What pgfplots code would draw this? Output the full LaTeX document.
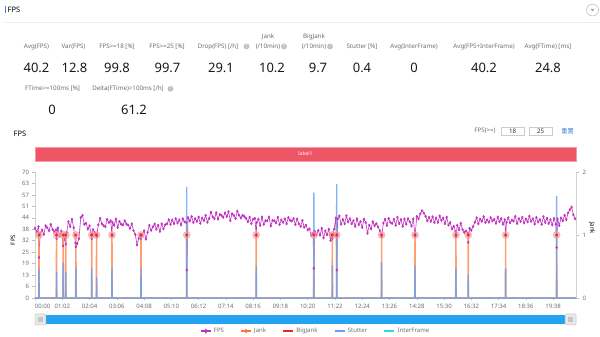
\documentclass[border=0pt]{standalone}
\usepackage{pgfplots}
\usepackage{pgfplotstable}
\pgfplotsset{compat=1.18}
\usepackage{fontspec}
\setmainfont{Noto Sans}
\newfontfamily\cjk{Noto Sans CJK SC}
\definecolor{fpsc}{RGB}{192,52,192}
\definecolor{jankc}{RGB}{252,150,100}
\definecolor{jankl}{RGB}{250,120,60}
\definecolor{bigc}{RGB}{232,40,40}
\definecolor{halo}{RGB}{244,150,150}
\definecolor{stutc}{RGB}{100,160,245}
\definecolor{interc}{RGB}{50,215,235}
\definecolor{lblc}{RGB}{110,110,110}
\definecolor{valc}{RGB}{25,25,25}
\definecolor{bannerc}{RGB}{238,86,102}
\definecolor{sliderc}{RGB}{36,164,240}
\definecolor{linkc}{RGB}{60,120,220}
\definecolor{barc}{RGB}{70,120,240}

\pgfplotstableread[row sep=\\]{t y\\
0 38.7\\ 4 36.7\\ 8 39.6\\ 9 22.5\\ 12 36.0\\ 16 37.8\\ 20 35.3\\ 24 40.1\\ 28 39.0\\ 32 37.4\\ 36 40.9\\ 40 38.1\\ 44 36.7\\ 48 37.9\\ 49 33.0\\ 52 38.9\\ 56 34.5\\ 60 37.2\\ 64 29.0\\ 68 33.5\\ 70 30.0\\ 72 36.4\\ 76 42.4\\ 80 39.7\\ 84 43.7\\ 88 39.0\\ 92 30.6\\ 93 28.5\\ 96 30.2\\ 100 33.0\\
104 44.6\\ 108 45.9\\ 112 41.0\\ 116 41.5\\ 120 38.3\\ 124 40.1\\ 128 35.1\\ 129 33.0\\ 132 38.0\\ 136 36.3\\ 140 34.0\\ 144 40.6\\ 148 44.2\\ 152 41.3\\ 156 40.2\\ 160 39.6\\ 164 43.7\\ 168 41.9\\ 172 42.9\\ 175 34.5\\ 176 42.1\\ 180 40.4\\ 184 43.9\\ 188 39.2\\ 192 42.5\\ 196 41.0\\ 200 40.6\\
204 42.9\\ 208 41.1\\ 212 40.5\\ 216 38.7\\ 220 41.2\\ 224 37.5\\ 228 35.3\\ 232 29.5\\ 236 33.2\\ 240 35.5\\ 241 33.0\\ 244 34.8\\ 248 37.4\\ 252 32.7\\ 256 36.5\\ 260 40.4\\ 264 37.6\\ 268 39.5\\ 272 41.1\\ 276 38.2\\ 280 40.4\\ 284 37.0\\ 288 41.2\\ 292 38.4\\ 296 40.7\\ 300 41.2\\
304 43.5\\ 308 40.9\\ 312 43.3\\ 316 41.3\\ 320 44.1\\ 324 41.7\\ 328 43.4\\ 332 40.6\\ 336 44.0\\ 340 42.3\\ 344 41.9\\ 345 15.5\\ 348 44.7\\ 352 42.8\\ 356 45.3\\ 360 42.0\\ 364 44.1\\ 368 42.6\\ 372 45.0\\ 376 41.5\\ 380 44.4\\ 384 43.0\\ 388 45.9\\ 392 42.1\\ 396 44.2\\ 400 47.7\\
404 45.1\\ 408 44.0\\ 412 47.4\\ 416 43.8\\ 420 46.4\\ 424 45.9\\ 428 44.8\\ 432 47.3\\ 436 45.3\\ 440 48.0\\ 444 43.0\\ 448 46.8\\ 452 45.9\\ 456 44.1\\ 460 48.2\\ 464 46.0\\ 468 44.5\\ 472 46.0\\ 476 45.2\\ 480 44.2\\ 484 42.4\\ 488 44.9\\ 492 41.3\\ 496 43.8\\ 500 44.2\\ 503 34.5\\
504 41.9\\ 508 43.8\\ 512 40.3\\ 516 45.0\\ 520 40.9\\ 524 42.9\\ 528 42.9\\ 532 45.0\\ 536 40.0\\ 540 43.1\\ 544 42.9\\ 548 41.7\\ 552 44.9\\ 556 40.8\\ 560 43.4\\ 564 42.0\\ 568 44.0\\ 572 41.2\\ 576 44.7\\ 580 43.1\\ 584 42.8\\ 588 44.1\\ 592 40.8\\ 596 43.9\\ 600 41.2\\
604 39.8\\ 608 43.0\\ 612 39.3\\ 616 40.5\\ 620 37.8\\ 624 38.4\\ 628 34.8\\ 632 35.9\\ 634 16.5\\ 636 37.0\\ 640 35.0\\ 644 37.5\\ 648 34.9\\ 652 38.7\\ 656 33.4\\ 660 37.3\\ 664 35.1\\ 668 38.2\\ 672 32.0\\ 674 35.5\\ 676 33.0\\ 680 38.2\\ 684 44.5\\ 686 15.5\\ 688 43.8\\ 692 45.6\\ 696 41.0\\ 700 43.6\\
704 41.2\\ 708 45.7\\ 712 42.3\\ 716 44.1\\ 720 41.2\\ 724 42.9\\ 728 39.8\\ 732 44.0\\ 736 40.7\\ 740 42.5\\ 744 39.2\\ 748 43.8\\ 752 41.9\\ 756 36.0\\ 760 40.5\\ 764 38.4\\ 768 42.4\\ 772 40.1\\ 776 41.3\\ 780 39.5\\ 784 37.4\\ 788 34.0\\ 792 41.6\\ 796 43.8\\ 800 40.3\\
804 44.2\\ 808 42.1\\ 812 41.4\\ 816 43.7\\ 820 40.4\\ 824 44.9\\ 828 41.3\\ 832 43.6\\ 836 39.8\\ 840 43.9\\ 844 41.0\\ 848 44.1\\ 852 42.4\\ 856 40.0\\ 860 43.9\\ 864 34.5\\ 868 45.3\\ 872 44.0\\ 876 46.8\\ 880 48.5\\ 884 47.2\\ 888 45.4\\ 892 42.9\\ 896 44.8\\ 900 42.6\\
904 45.1\\ 908 41.9\\ 912 44.5\\ 916 42.0\\ 920 45.6\\ 924 43.2\\ 928 44.4\\ 932 41.3\\ 936 44.9\\ 940 40.5\\ 944 41.9\\ 948 38.4\\ 952 39.8\\ 956 37.0\\ 957 34.0\\ 960 40.4\\ 964 37.9\\ 968 41.5\\ 972 38.0\\ 976 36.5\\ 980 37.2\\ 984 36.0\\ 985 31.0\\ 988 38.7\\ 992 37.6\\ 996 39.7\\ 1000 42.1\\
1004 44.6\\ 1008 41.2\\ 1012 43.8\\ 1016 42.6\\ 1020 45.2\\ 1024 41.9\\ 1028 43.4\\ 1032 42.1\\ 1036 44.7\\ 1040 42.8\\ 1044 43.7\\ 1048 41.5\\ 1052 45.0\\ 1056 42.4\\ 1060 44.1\\ 1064 41.0\\ 1068 43.5\\ 1070 34.5\\ 1072 42.0\\ 1076 44.6\\ 1080 41.8\\ 1084 43.3\\ 1088 42.7\\ 1092 45.4\\ 1096 41.4\\ 1100 44.1\\
1104 42.5\\ 1108 44.9\\ 1112 41.7\\ 1116 43.9\\ 1120 42.3\\ 1124 45.5\\ 1128 42.6\\ 1132 44.0\\ 1136 41.1\\ 1140 44.8\\ 1144 42.2\\ 1148 43.6\\ 1152 40.9\\ 1156 45.2\\ 1160 42.0\\ 1164 44.3\\ 1168 41.4\\ 1172 43.5\\ 1176 40.6\\ 1180 44.2\\ 1184 41.0\\ 1186 28.0\\ 1188 43.9\\ 1192 40.3\\ 1196 44.5\\ 1200 42.9\\
1204 46.0\\ 1208 43.5\\ 1212 47.3\\ 1216 49.0\\ 1220 50.5\\ 1224 46.2\\ 1228 44.0\\
}\fpsdata

% Jank (right axis, 0..2)
\pgfplotstableread[row sep=\\]{t y\\
0 0\\ 8.5 0\\ 9 1\\ 9.5 0\\ 48.5 0\\ 49 1\\ 49.5 0\\ 63.5 0\\ 64 1\\ 64.5 0\\ 69.5 0\\ 70 1\\ 70.5 0\\ 92.5 0\\ 93 1\\ 93.5 0\\ 128.5 0\\ 129 1\\ 129.5 0\\ 139.5 0\\ 140 1\\ 140.5 0\\ 174.5 0\\ 175 1\\ 175.5 0\\ 240.5 0\\ 241 1\\ 241.5 0\\ 344.5 0\\ 345 1\\ 345.5 0\\ 502.5 0\\ 503 1\\ 503.5 0\\ 633.5 0\\ 634 1\\ 634.5 0\\ 675.5 0\\ 676 1\\ 676.5 0\\ 685.5 0\\ 686 1\\ 686.5 0\\ 787.5 0\\ 788 1\\ 788.5 0\\ 863.5 0\\ 864 1\\ 864.5 0\\ 956.5 0\\ 957 1\\ 957.5 0\\ 984.5 0\\ 985 1\\ 985.5 0\\ 1069.5 0\\ 1070 1\\ 1070.5 0\\ 1185.5 0\\ 1186 1\\ 1186.5 0\\ 1230 0\\
}\jankdata

% BigJank events (right axis)
\pgfplotstableread[row sep=\\]{t y\\
9 1\\ 49 1\\ 64 1\\ 70 1\\ 93 1\\ 129 1\\ 140 1\\ 175 1\\ 241 1\\ 345 1\\ 503 1\\ 634 1\\ 676 1\\ 686 1\\ 788 1\\ 864 1\\ 957 1\\ 985 1\\ 1070 1\\ 1186 1\\
}\bigdata

% Stutter (left axis)
\pgfplotstableread[row sep=\\]{t y\\
0 0\\ 8.6 0\\ 9 16.7\\ 9.4 0\\ 48.6 0\\ 49 14.6\\ 49.4 0\\ 63.6 0\\ 64 19.6\\ 64.4 0\\ 69.6 0\\ 70 14.6\\ 70.4 0\\ 92.6 0\\ 93 17.0\\ 93.4 0\\ 128.6 0\\ 129 16.7\\ 129.4 0\\ 139.6 0\\ 140 11.7\\ 140.4 0\\ 174.6 0\\ 175 16.7\\ 175.4 0\\ 240.6 0\\ 241 16.7\\ 241.4 0\\ 344.6 0\\ 345 61.7\\ 345.4 0\\ 502.6 0\\ 503 18.0\\ 503.4 0\\ 633.6 0\\ 634 58.5\\ 634.4 0\\ 675.6 0\\ 676 18.0\\ 676.4 0\\ 685.6 0\\ 686 63.3\\ 686.4 0\\ 787.6 0\\ 788 19.8\\ 788.4 0\\ 863.6 0\\ 864 18.0\\ 864.4 0\\ 956.6 0\\ 957 16.5\\ 957.4 0\\ 984.6 0\\ 985 12.8\\ 985.4 0\\ 1069.6 0\\ 1070 16.5\\ 1070.4 0\\ 1185.6 0\\ 1186 56.7\\ 1186.4 0\\ 1230 0\\
}\stutdata

\pgfplotstableread[row sep=\\]{t y\\ 0 0\\ 1230 0\\}\interdata

\newcommand\lbl{\fontsize{6.2}{7}\selectfont}
\newcommand\val{\fontsize{13}{14}\selectfont\bfseries}

\begin{document}
\begin{tikzpicture}[x=1pt,y=1pt]
\path[use as bounding box, fill=white] (0,0) rectangle (600,337);

% ---- header ----
\fill[barc] (4.6,324) rectangle (6.0,331);
\node[anchor=west, font=\fontsize{7.5}{8}\selectfont\bfseries, inner sep=0] at (7.5,327.3) {FPS};
\draw[gray!15, line width=0.6pt] (5,315) -- (600,315);
\draw[gray!60, line width=0.5pt] (592.5,327) circle (6);
\fill[gray!70] (590.3,328.2) -- (594.7,328.2) -- (592.5,325.6) -- cycle;

\tikzset{lab/.style={font=\lbl, text=lblc, inner sep=0}, vv/.style={font=\val, text=valc, inner sep=0},
 qi/.style={circle, fill=gray!50, text=white, inner sep=0, minimum size=5.8pt, font=\fontsize{5}{5}\selectfont\bfseries}}
% labels row 1
\node[lab] at (36.5,290.3) {Avg(FPS)};
\node[lab] at (73.5,290.3) {Var(FPS)};
\node[lab] at (117,290.3) {FPS>=18 [\%]};
\node[lab] at (167,290.3) {FPS>=25 [\%]};
\node[lab] at (218,290.3) {Drop(FPS) [/h]};
\node[qi] at (246.5,290.6) {?};
\node[lab] at (268,300.5) {Jank};
\node[lab] at (268,290.3) {(/10min)};
\node[qi] at (284,290.6) {?};
\node[lab] at (314,300.5) {BigJank};
\node[lab] at (314,290.3) {(/10min)};
\node[qi] at (330,290.6) {?};
\node[lab] at (362,290.3) {Stutter [\%]};
\node[lab] at (414,290.3) {Avg(InterFrame)};
\node[lab] at (484,290.3) {Avg(FPS+InterFrame)};
\node[lab] at (548,290.3) {Avg(FTime) [ms]};
% values row 1
\node[vv] at (36.5,269) {40.2};
\node[vv] at (74.5,269) {12.8};
\node[vv] at (117,269) {99.8};
\node[vv] at (167.5,269) {99.7};
\node[vv] at (221,269) {29.1};
\node[vv] at (272,269) {10.2};
\node[vv] at (318,269) {9.7};
\node[vv] at (362,269) {0.4};
\node[vv] at (414,269) {0};
\node[vv] at (484,269) {40.2};
\node[vv] at (548,269) {24.8};
% row 2
\node[lab] at (52.5,248) {FTime>=100ms [\%]};
\node[lab] at (128,248) {Delta(FTime)>100ms [/h]};
\node[qi] at (170.5,248.3) {?};
\node[vv] at (52,227) {0};
\node[vv] at (134,227) {61.2};

% ---- chart header ----
\node[anchor=west, font=\fontsize{7.5}{8}\selectfont\bfseries, inner sep=0] at (13.5,203) {FPS};
\node[lab] at (485,206) {FPS(>=)};
\draw[gray!40, line width=0.5pt] (501,201.5) rectangle (524.5,209.5);
\node[lab, text=black!80] at (512.7,205.5) {18};
\draw[gray!40, line width=0.5pt] (529,201.5) rectangle (552.5,209.5);
\node[lab, text=black!80] at (540.7,205.5) {25};
\node[font=\fontsize{6.2}{7}\selectfont\cjk, text=linkc, inner sep=0] at (567.5,206) {重置};
\fill[bannerc] (35,176.2) rectangle (576,190);
\draw[bannerc!60, line width=0.4pt] (35,176.2) rectangle (576,190);
\node[font=\fontsize{5}{5}\selectfont\bfseries, text=white, inner sep=0] at (305.5,183.1) {label1};

% axis titles
\node[rotate=90, font=\fontsize{6}{7}\selectfont\bfseries, inner sep=0] at (13,97) {FPS};
\node[rotate=-90, font=\fontsize{6}{7}\selectfont\bfseries, inner sep=0] at (592,109) {Jank};

% ---- right axis (Jank) ----
\begin{axis}[at={(35pt,39pt)}, anchor=south west, scale only axis, width=541pt, height=126pt,
  xmin=0, xmax=1230, ymin=0, ymax=2,
  axis x line=none, axis y line*=right,
  axis line style={-, draw=gray!35, line width=0.6pt},
  ytick={0,1,2}, tick align=outside, major tick length=2.5pt,
  tick style={draw=gray!50, line width=0.5pt},
  tick label style={font=\fontsize{6}{7}\selectfont, text=lblc},
  /pgf/number format/assume math mode=true,
  yticklabel style={xshift=0.5pt}]
\end{axis}

% ---- main axis ----
\begin{axis}[at={(35pt,39pt)}, anchor=south west, scale only axis, width=541pt, height=126pt,
  xmin=0, xmax=1230, ymin=0, ymax=70,
  axis x line*=bottom, axis y line*=left,
  axis line style={-, draw=gray!35, line width=0.6pt},
  xtick={0,62,...,1178},
  xticklabels={\rlap{00:00},01:02,02:04,03:06,04:08,05:10,06:12,07:14,08:16,09:18,10:20,11:22,12:24,13:26,14:28,15:30,16:32,17:34,18:36,19:38},
  ytick={0,6.3636,12.7273,19.0909,25.4545,31.8182,38.1818,44.5455,50.9091,57.2727,63.6364,70},
  yticklabels={0,6,13,19,25,32,38,44,51,57,63,70},
  tick align=outside, major tick length=2.5pt,
  tick style={draw=gray!50, line width=0.5pt},
  tick label style={font=\fontsize{6}{7}\selectfont, text=lblc},
  xticklabel style={yshift=-0.5pt},
  /pgf/number format/assume math mode=true,
  clip=false,
  legend image code/.code={\draw[#1, mark=none] (0pt,0pt) -- (10pt,0pt); \path[#1, draw=none] plot coordinates {(5pt,0pt)};},
  legend style={at={(0.3050,-0.2625)}, anchor=west, draw=none, fill=none, legend columns=-1,
    font=\fontsize{6}{7}\selectfont, inner sep=0pt,
    nodes={inner xsep=2.5pt, inner ysep=0pt},
    /tikz/every even column/.append style={column sep=14pt}},
]
\addplot[interc, line width=0.8pt, forget plot] table[x=t, y=y] {\interdata};
\addplot[fpsc, line width=0.6pt, mark=diamond*, mark size=1.1pt, mark options={fpsc}, forget plot] table[x=t, y=y] {\fpsdata};
\addplot[jankc, line width=1.5pt, opacity=0.9, forget plot] table[x=t, y expr=\thisrow{y}*35] {\jankdata};
\addplot[stutc, line width=1.4pt, opacity=0.8, forget plot] table[x=t, y=y] {\stutdata};
\addplot[only marks, halo, mark=*, mark size=3.6pt, opacity=0.6, forget plot] table[x=t, y expr=\thisrow{y}*35] {\bigdata};
\addplot[only marks, bigc, mark=*, mark size=1.3pt, forget plot] table[x=t, y expr=\thisrow{y}*35] {\bigdata};

\addlegendimage{color=fpsc, draw=fpsc, line width=1.2pt, mark=diamond*, mark size=1.5pt, mark options={fill=fpsc, draw=fpsc}}
\addlegendentry{\textcolor{lblc}{FPS}}
\addlegendimage{color=jankl, draw=jankl, line width=1.2pt, mark=*, mark size=1.3pt, mark options={fill=jankl, draw=jankl}}
\addlegendentry{\textcolor{lblc}{Jank}}
\addlegendimage{color=bigc, draw=bigc, line width=1.4pt}
\addlegendentry{\textcolor{lblc}{BigJank}}
\addlegendimage{color=stutc, draw=stutc, line width=1.4pt}
\addlegendentry{\textcolor{lblc}{Stutter}}
\addlegendimage{color=interc, draw=interc, line width=1.4pt}
\addlegendentry{\textcolor{lblc}{InterFrame}}
\end{axis}

% ---- slider ----
\fill[sliderc] (40,13) rectangle (571,22);
\filldraw[fill=gray!18, draw=gray!45, line width=0.5pt, rounded corners=1pt] (35,12) rectangle (45.8,23);
\fill[gray!45] (38,15) rectangle (43,20);
\filldraw[fill=gray!18, draw=gray!45, line width=0.5pt, rounded corners=1pt] (565.2,12) rectangle (576,23);
\fill[gray!45] (568,15) rectangle (573,20);
\end{tikzpicture}
\end{document}
